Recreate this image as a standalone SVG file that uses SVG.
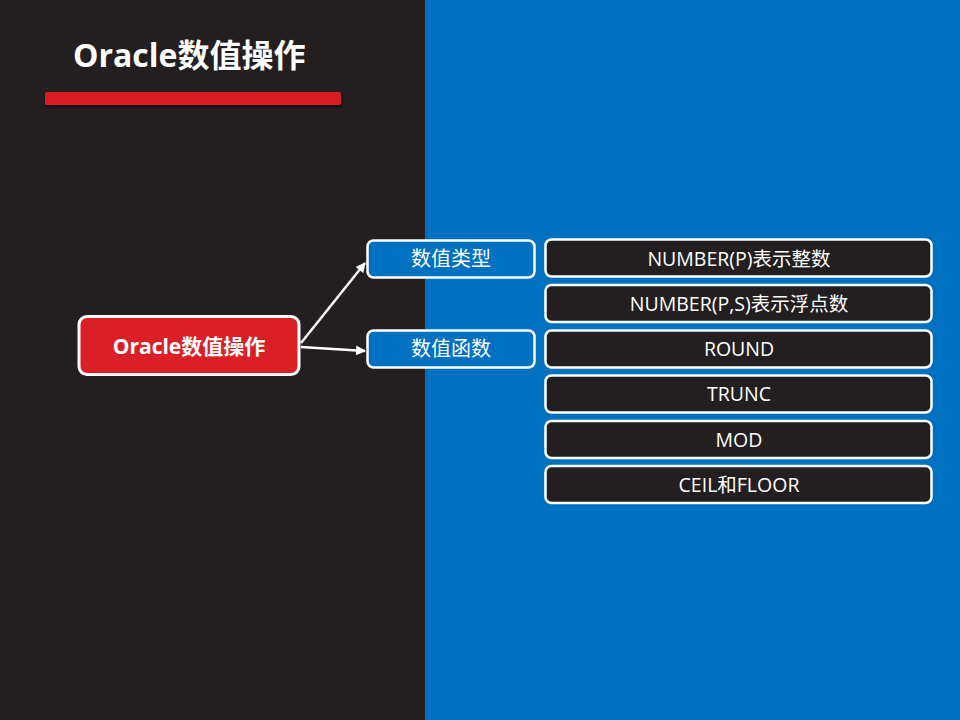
<svg xmlns="http://www.w3.org/2000/svg" width="960" height="720" viewBox="0 0 960 720">
<defs>
<style>
.t{font-family:"Open Sans","Noto Sans CJK SC",sans-serif;fill:#fff;text-anchor:middle;dominant-baseline:central}
.blue{fill:#0070C0;stroke:#fff;stroke-width:2.5}
.dark{fill:#231F20;stroke:#fff;stroke-width:2.5}
.conn{stroke:#fff;stroke-width:2.5;fill:none}
</style>
<marker id="ah" viewBox="0 0 10 10" refX="9" refY="5" markerWidth="4" markerHeight="4" orient="auto" markerUnits="strokeWidth"><path d="M0,0L10,5L0,10z" fill="#fff"/></marker>
<filter id="sh" x="-10%" y="-50%" width="120%" height="250%"><feDropShadow dx="1" dy="2" stdDeviation="1.5" flood-color="#000" flood-opacity="0.6"/></filter>
</defs>
<rect x="0" y="0" width="425" height="720" fill="#231F20"/>
<rect x="425" y="0" width="535" height="720" fill="#0070C0"/>
<text x="73" y="67" font-family="'Open Sans','Noto Sans CJK SC',sans-serif" font-size="32" font-weight="bold" fill="#fff">Oracle数值操作</text>
<rect x="45" y="92" width="296" height="13" rx="2" fill="#DA1F26" filter="url(#sh)"/>
<g id="connectors">
<line class="conn" x1="301" y1="343" x2="365" y2="263" marker-end="url(#ah)"/>
<line class="conn" x1="301" y1="347" x2="365" y2="351" marker-end="url(#ah)"/>
</g>
<g id="main"><rect x="79" y="316.5" width="220" height="58" rx="8" fill="#DA1F26" stroke="#fff" stroke-width="3"/><text class="t" x="189" y="346" font-size="21" font-weight="bold">Oracle数值操作</text></g>
<g id="types"><rect class="blue" x="367.5" y="240.5" width="167" height="37" rx="6"/><text class="t" x="451" y="258" font-size="20">数值类型</text></g>
<g id="funcs"><rect class="blue" x="367.5" y="330.5" width="167" height="37" rx="6"/><text class="t" x="451" y="348" font-size="20">数值函数</text></g>
<g id="n1"><rect class="dark" x="545.5" y="239.5" width="386" height="37" rx="6"/><text class="t" x="739" y="258" font-size="19.5">NUMBER(P)表示整数</text></g>
<g id="n2"><rect class="dark" x="545.5" y="285" width="386" height="37" rx="6"/><text class="t" x="739" y="303" font-size="19.5">NUMBER(P,S)表示浮点数</text></g>
<g id="n3"><rect class="dark" x="545.5" y="330.5" width="386" height="37" rx="6"/><text class="t" x="739" y="348" font-size="19.5">ROUND</text></g>
<g id="n4"><rect class="dark" x="545.5" y="375.5" width="386" height="37" rx="6"/><text class="t" x="739" y="393.5" font-size="19.5">TRUNC</text></g>
<g id="n5"><rect class="dark" x="545.5" y="421" width="386" height="37" rx="6"/><text class="t" x="739" y="439" font-size="19.5">MOD</text></g>
<g id="n6"><rect class="dark" x="545.5" y="466" width="386" height="37" rx="6"/><text class="t" x="739" y="484" font-size="19.5">CEIL和FLOOR</text></g>
</svg>
